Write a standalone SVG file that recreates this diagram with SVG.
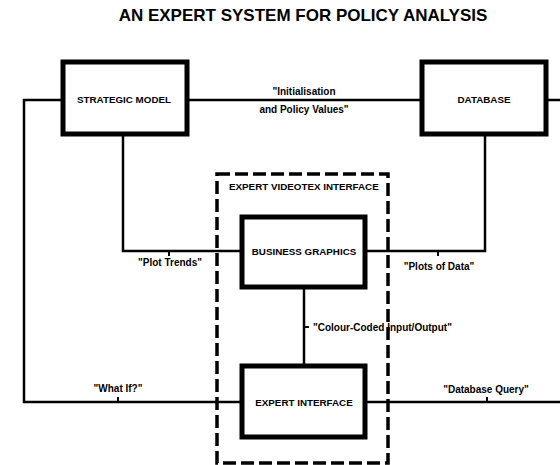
<svg xmlns="http://www.w3.org/2000/svg" width="560" height="465" viewBox="0 0 560 465">
<style>
.box{fill:#fff;stroke:#000;stroke-width:5}
.dash{fill:none;stroke:#000;stroke-width:3.5;stroke-dasharray:13 5}
.ln{fill:none;stroke:#000;stroke-width:2.5}
.tick{fill:none;stroke:#000;stroke-width:2}
.t{font-family:"Liberation Sans",Arial,sans-serif;font-weight:bold;font-size:9.8px;fill:#000;text-anchor:middle}
.l{font-family:"Liberation Sans",Arial,sans-serif;font-weight:bold;font-size:10px;fill:#000;text-anchor:middle}
.title{font-family:"Liberation Sans",Arial,sans-serif;font-weight:900;font-size:17px;fill:#000;text-anchor:middle}
</style>
<rect width="560" height="465" fill="#fff"/>
<text class="title" x="303" y="21">AN EXPERT SYSTEM FOR POLICY ANALYSIS</text>
<g id="connectors">
<path class="ln" d="M63 100 H24 V402 H242"/>
<path class="ln" d="M187 100 H422"/>
<path class="ln" d="M546 100 H560"/>
<path class="ln" d="M123 134 V251 H242"/>
<path class="ln" d="M365 251 H485 V134"/>
<path class="ln" d="M304 287 V366"/>
<path class="ln" d="M365 402 H560"/>
<path class="tick" d="M169 251 V256"/>
<path class="tick" d="M438 251 V256"/>
<path class="tick" d="M118 402 V397"/>
<path class="tick" d="M487 402 V397"/>
<path class="tick" d="M304 327 H309"/>
<text class="l" x="304" y="95">"Initialisation</text>
<text class="l" x="304" y="113">and Policy Values"</text>
<text class="l" x="170" y="266">"Plot Trends"</text>
<text class="l" x="439" y="270">"Plots of Data"</text>
<text class="l" x="313" y="331" style="text-anchor:start">"Colour-Coded Input/Output"</text>
<text class="l" x="118" y="392">"What If?"</text>
<text class="l" x="486" y="393">"Database Query"</text>
</g>
<g id="videotex">
<rect class="dash" x="217" y="174" width="171" height="289"/>
<text class="t" x="229" y="190" style="text-anchor:start">EXPERT VIDEOTEX INTERFACE</text>
</g>
<g id="strategic-model">
<rect class="box" x="63" y="62" width="124" height="72"/>
<text class="t" x="124" y="103">STRATEGIC MODEL</text>
</g>
<g id="database">
<rect class="box" x="422" y="62" width="124" height="72"/>
<text class="t" x="484" y="103">DATABASE</text>
</g>
<g id="business-graphics">
<rect class="box" x="242" y="217" width="123" height="70"/>
<text class="t" x="304" y="255">BUSINESS GRAPHICS</text>
</g>
<g id="expert-interface">
<rect class="box" x="242" y="366" width="123" height="71"/>
<text class="t" x="304" y="406">EXPERT INTERFACE</text>
</g>
</svg>
